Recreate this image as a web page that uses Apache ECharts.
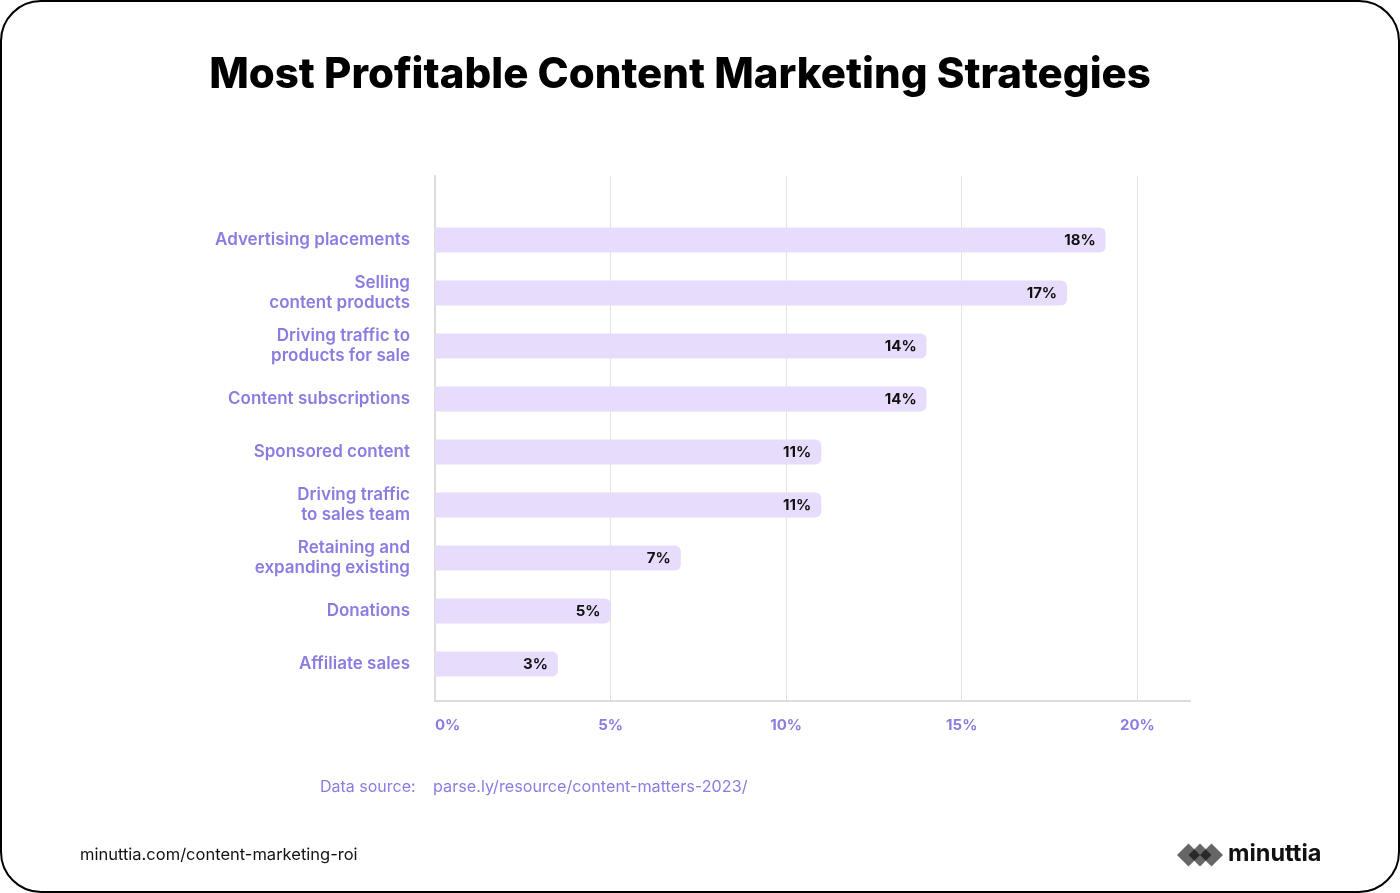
<!DOCTYPE html>
<html>
<head>
<meta charset="utf-8">
<script src="https://cdn.jsdelivr.net/npm/echarts@6/dist/echarts.min.js"></script>
<style>
html,body{margin:0;padding:0;background:#fff;}
#chart{width:1400px;height:893px;}
</style>
</head>
<body>
<div id="chart"></div>
<script>
const categories = [
  'Advertising placements',
  'Selling\ncontent products',
  'Driving traffic to\nproducts for sale',
  'Content subscriptions',
  'Sponsored content',
  'Driving traffic\nto sales team',
  'Retaining and\nexpanding existing',
  'Donations',
  'Affiliate sales'
];
const barValues = [19.1, 18, 14, 14, 11, 11, 7, 5, 3.5];
const barLabels = ['18%', '17%', '14%', '14%', '11%', '11%', '7%', '5%', '3%'];
const xTicks = [0, 5, 10, 15, 20];

const FONT = 'Inter, "Noto Sans", sans-serif';
const PURPLE = '#8B7CE2';

const chart = echarts.init(document.getElementById('chart'));
const logoDiamonds = [1188.5, 1200, 1211.5].map(cx => ({
  type: 'polygon',
  shape: { points: [[cx - 11.5, 855], [cx, 843.5], [cx + 11.5, 855], [cx, 866.5]] },
  style: { fill: 'rgba(0,0,0,0.6)' }
}));

chart.setOption({
  animation: false,
  textStyle: { fontFamily: FONT },
  grid: [
    { left: 435, right: 210, top: 176, bottom: 192 },
    { left: 435, right: 210, top: 213.5, bottom: 202.5 }
  ],
  xAxis: [
    {
      gridIndex: 0, type: 'value', min: xTicks[0], max: 21.5, interval: xTicks[1] - xTicks[0],
      axisLine: { show: true, lineStyle: { color: '#dcdcdc', width: 2 } },
      axisTick: { show: false },
      splitLine: { show: true, showMaxLine: false, lineStyle: { color: '#e3e3e3', width: 1 } },
      axisLabel: {
        formatter: v => (xTicks.indexOf(v) >= 0 ? v + '%' : ''),
        color: PURPLE, fontWeight: 'bold', fontSize: 15, margin: 17,
        showMaxLabel: false, alignMinLabel: 'left', fontFamily: FONT
      }
    },
    { gridIndex: 1, type: 'value', min: 0, max: 21.5, show: false }
  ],
  yAxis: [
    {
      gridIndex: 0, type: 'value', min: 0, max: 1,
      axisLine: { show: true, lineStyle: { color: '#dcdcdc', width: 2 } },
      axisTick: { show: false }, axisLabel: { show: false }, splitLine: { show: false }
    },
    {
      gridIndex: 1, type: 'category', inverse: true, data: categories,
      axisLine: { show: false }, axisTick: { show: false }, splitLine: { show: false },
      axisLabel: {
        color: PURPLE, fontSize: 17, fontWeight: 600, lineHeight: 20, margin: 25,
        fontFamily: FONT, align: 'right', padding: [0, 0, 5, 0]
      }
    }
  ],
  series: [
    { type: 'scatter', xAxisIndex: 0, yAxisIndex: 0, data: [], silent: true },
    {
      type: 'bar', xAxisIndex: 1, yAxisIndex: 1, data: barValues, barWidth: 25,
      itemStyle: { color: '#E8DCFC', borderRadius: [0, 6, 6, 0] },
      label: {
        show: true, position: 'insideRight', distance: 10,
        formatter: p => barLabels[p.dataIndex],
        color: '#111', fontWeight: 'bold', fontSize: 15, fontFamily: FONT
      }
    }
  ],
  graphic: [
    {
      type: 'rect', shape: { x: 1, y: 1, width: 1398, height: 891, r: 40 },
      style: { fill: 'none', stroke: '#000', lineWidth: 2 }, silent: true
    },
    {
      type: 'text', x: 680, y: 75,
      style: { text: 'Most Profitable Content Marketing Strategies', font: '800 42px ' + FONT,
        fill: '#000', align: 'center', verticalAlign: 'middle' }
    },
    {
      type: 'text', x: 320, y: 787,
      style: { text: 'Data source:', font: '400 16px ' + FONT, fill: PURPLE, align: 'left', verticalAlign: 'middle' }
    },
    {
      type: 'text', x: 433, y: 787,
      style: { text: 'parse.ly/resource/content-matters-2023/', font: '400 16.2px ' + FONT, fill: PURPLE, align: 'left', verticalAlign: 'middle' }
    },
    {
      type: 'text', x: 80, y: 855,
      style: { text: 'minuttia.com/content-marketing-roi', font: '400 16.5px ' + FONT, fill: '#111', align: 'left', verticalAlign: 'middle' }
    },
    ...logoDiamonds,
    {
      type: 'text', x: 1228, y: 854,
      style: { text: 'minuttia', font: '700 23.5px ' + FONT, fill: '#111', align: 'left', verticalAlign: 'middle' }
    }
  ]
});
</script>
</body>
</html>
